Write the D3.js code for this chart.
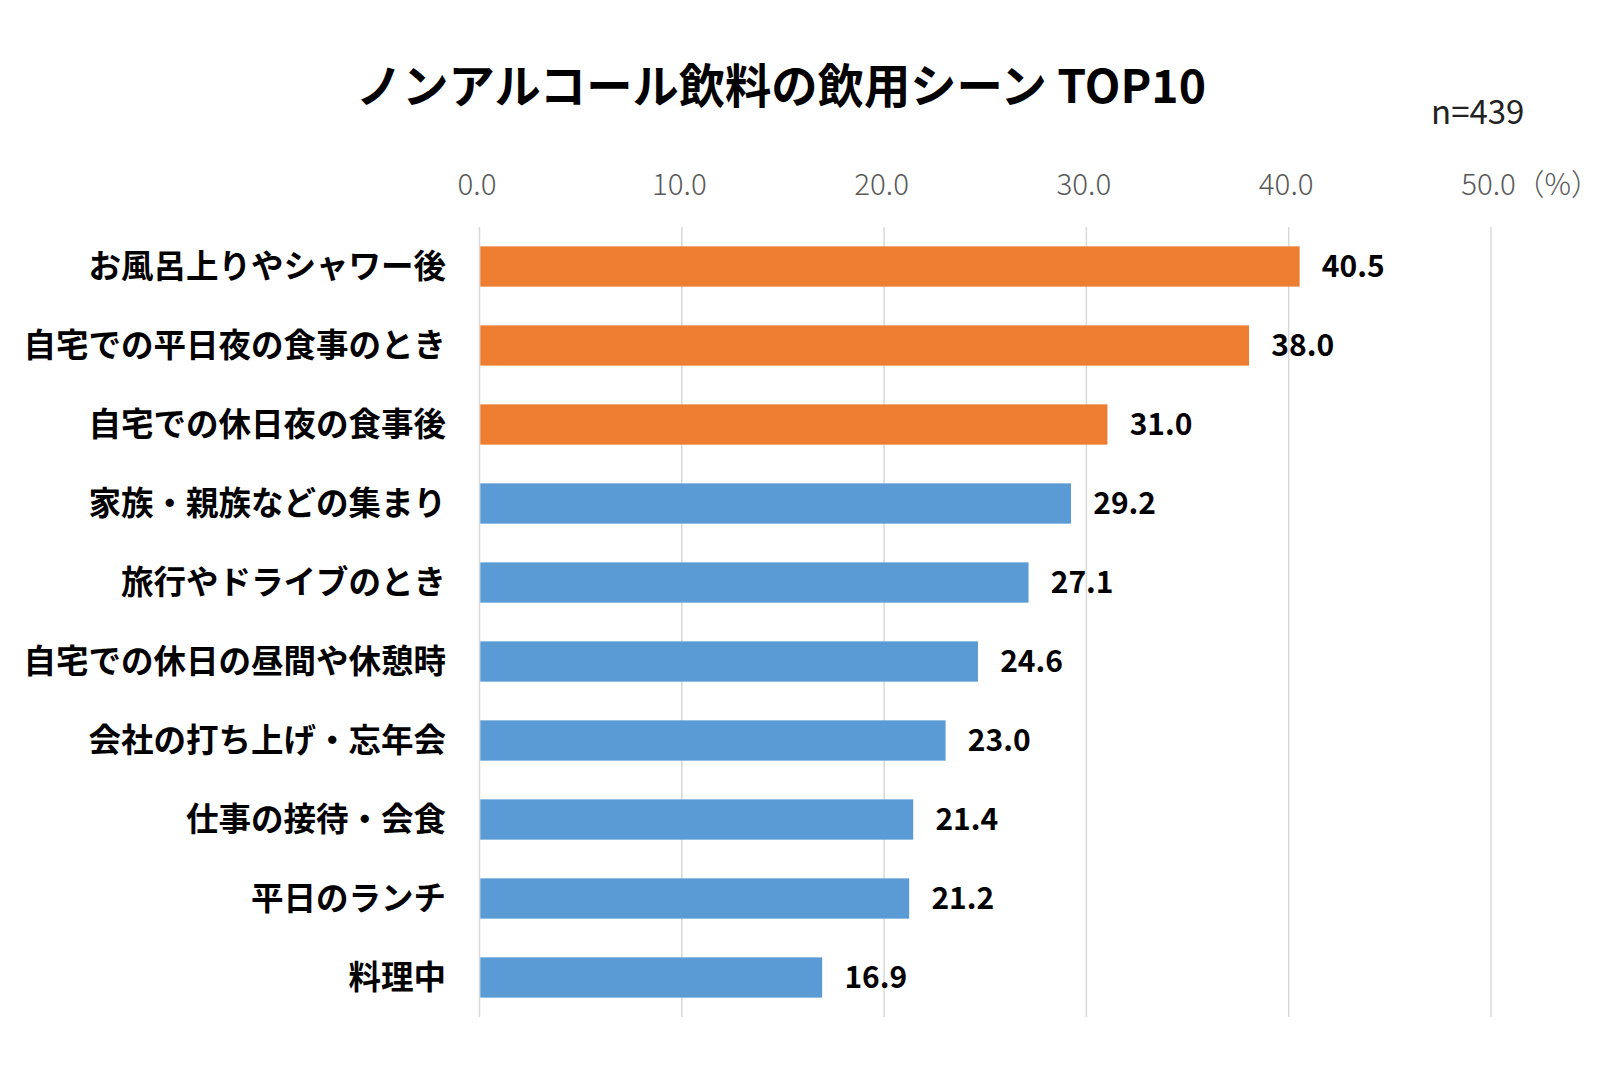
<!DOCTYPE html>
<html><head><meta charset="utf-8">
<script src="https://cdn.jsdelivr.net/npm/d3@7"></script>
<style>
html,body{margin:0;padding:0;background:#fff;}
svg{display:block;}
</style></head>
<body>
<svg id="chart" width="1617" height="1088"></svg>
<script>
const categories = ["お風呂上りやシャワー後","自宅での平日夜の食事のとき","自宅での休日夜の食事後","家族・親族などの集まり","旅行やドライブのとき","自宅での休日の昼間や休憩時","会社の打ち上げ・忘年会","仕事の接待・会食","平日のランチ","料理中"];
const values = [40.5,38.0,31.0,29.2,27.1,24.6,23.0,21.4,21.2,16.9];
const highlight = [true,true,true,false,false,false,false,false,false,false];
const tickValues = [0,10,20,30,40,50];
const title = "ノンアルコール飲料の飲用シーン TOP10";
const note = "n=439";
const unit = "（%）";

const svg = d3.select("#chart");
const font = "'Noto Sans CJK JP','Noto Sans',sans-serif";
const x = d3.scaleLinear().domain([0,50]).range([479.5,1491]);
const y = d3.scaleBand().domain(categories).range([227,1017]).paddingInner(0.49).paddingOuter(0.245);

// gridlines
svg.append("g").selectAll("line").data(tickValues).join("line")
  .attr("x1",d=>x(d)).attr("x2",d=>x(d))
  .attr("y1",227).attr("y2",1017)
  .attr("stroke","#d9d9d9").attr("stroke-width",1.5);

// top axis labels
const ax = svg.append("g").attr("transform","translate(-3,185)")
  .call(d3.axisTop(x).tickValues(tickValues).tickFormat(d3.format(".1f")).tickSize(0).tickPadding(0));
ax.select(".domain").remove();
ax.selectAll("text").attr("font-family",font).attr("font-weight",300)
  .attr("font-size",29.5).attr("fill","#595959").attr("dy","0.35em").attr("y",0);
svg.append("text").attr("x",x(50)+24).attr("y",185).attr("dy","0.35em")
  .attr("font-family",font).attr("font-weight",300).attr("font-size",29.5).attr("fill","#595959")
  .text(unit);

// bars
svg.append("g").selectAll("rect").data(values).join("rect")
  .attr("x",x(0)+0.8).attr("y",(d,i)=>y(categories[i]))
  .attr("width",d=>x(d)-x(0)).attr("height",y.bandwidth())
  .attr("fill",(d,i)=>highlight[i]?"#ED7D31":"#5B9BD5");

// value labels
svg.append("g").selectAll("text").data(values).join("text")
  .attr("x",d=>x(d)+23).attr("y",(d,i)=>y(categories[i])+y.bandwidth()/2)
  .attr("dy","0.36em")
  .attr("font-family",font).attr("font-weight",700).attr("font-size",30).attr("fill","#000")
  .text(d=>d3.format(".1f")(d));

// category labels
svg.append("g").selectAll("text").data(categories).join("text")
  .attr("x",446).attr("y",d=>y(d)+y.bandwidth()/2).attr("dy","0.36em")
  .attr("text-anchor","end")
  .attr("font-family",font).attr("font-weight",700).attr("font-size",32.5).attr("fill","#000")
  .text(d=>d);

// title
svg.append("text").attr("x",781).attr("y",86).attr("dy","0.36em").attr("text-anchor","middle")
  .attr("font-family",font).attr("font-weight",700).attr("font-size",46.3).attr("fill","#000")
  .text(title);

// n
svg.append("text").attr("x",1431).attr("y",112).attr("dy","0.36em")
  .attr("font-family",font).attr("font-weight",400).attr("font-size",33).attr("fill","#222")
  .text(note);
</script>
</body></html>
